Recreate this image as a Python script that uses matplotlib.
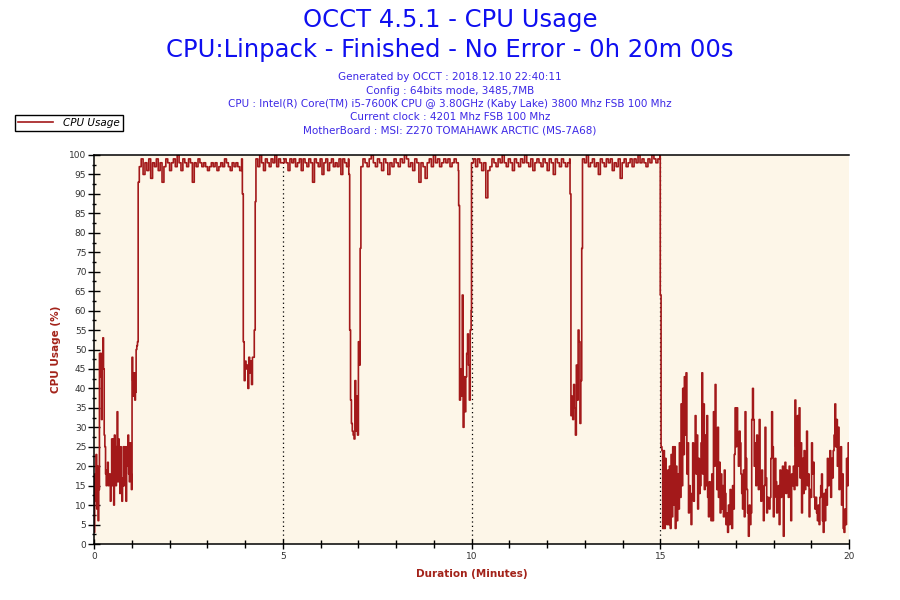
import matplotlib
matplotlib.use('Agg')
import matplotlib.pyplot as plt
from matplotlib.ticker import MultipleLocator
import numpy as np

#-------------------------- data --------------------------
# each segment: (start minute, end minute, cpu usage values sampled evenly in between)
seg_start = [0.0, 1.20, 3.93, 4.29, 6.75, 7.07, 9.66, 10.00, 12.61, 12.94, 15.00]
seg_end   = [1.17, 3.91, 4.27, 6.74, 7.05, 9.65, 9.99, 12.60, 12.92, 14.99, 20.00]

warmup = [3, 18, 11, 23, 9, 20, 6, 14, 49, 43, 49, 32, 45, 53, 45, 28, 25, 18, 15, 19,
          21, 15, 18, 16, 11, 18, 27, 15, 27, 10, 28, 18, 15, 25, 34, 16, 27, 22, 13, 25,
          17, 11, 15, 25, 15, 25, 21, 11, 25, 20, 28, 18, 16, 26, 18, 14, 48, 42, 38, 44,
          37, 39, 50, 51, 52, 93]
run1 = [97, 99, 95, 98, 96, 99, 94, 98, 97, 99, 96, 98, 93, 97, 99, 98, 96, 98, 99, 97,
        100, 98, 96, 99, 98, 97, 99, 98, 93, 98, 97, 99, 98, 97, 98, 97, 96, 97, 98, 97,
        98, 96, 97, 98, 97, 99, 98, 97, 96, 98, 97, 98, 97, 96, 99]
dip1 = [90, 52, 42, 47, 45, 46, 40, 48, 44, 47, 41, 48, 48, 55, 88]
run2 = [99, 97, 100, 98, 96, 99, 98, 97, 99, 98, 100, 97, 99, 98, 98, 99, 98, 96, 99, 98,
        99, 97, 98, 99, 96, 99, 98, 97, 99, 98, 93, 99, 98, 97, 99, 95, 98, 99, 96, 98,
        99, 97, 98, 97, 99, 95, 99, 98, 97, 99]
dip2 = [95, 55, 37, 31, 29, 28, 27, 42, 29, 38, 28, 52, 46, 76]
run3 = [97, 99, 98, 97, 99, 100, 98, 97, 99, 98, 96, 99, 98, 95, 98, 97, 99, 98, 97, 99,
        98, 100, 99, 97, 98, 96, 99, 98, 93, 98, 97, 94, 98, 99, 97, 100, 98, 99, 97, 98,
        99, 98, 99, 97, 98, 99, 98, 96]
dip3 = [87, 37, 45, 38, 64, 30, 43, 34, 43, 49, 54, 46, 37, 55, 60]
run4 = [98, 99, 97, 99, 98, 96, 98, 89, 96, 97, 99, 98, 97, 99, 98, 100, 98, 97, 99, 98,
        96, 99, 98, 97, 99, 98, 100, 98, 97, 99, 96, 98, 99, 98, 97, 99, 98, 96, 99, 98,
        95, 99, 98, 97, 99, 98, 97, 98, 99]
dip4 = [90, 33, 38, 32, 41, 35, 28, 46, 37, 55, 52, 31, 42, 76]
run5 = [99, 98, 100, 97, 98, 99, 97, 98, 95, 99, 98, 97, 99, 98, 99, 96, 98, 97, 99, 94,
        98, 99, 97, 98, 99, 97, 99, 98, 100, 98, 99, 98, 97, 99, 98, 100, 99, 98, 99, 100]
idle = [64, 25, 24, 4, 24, 4, 22, 13, 5, 19, 5, 20, 4, 23, 7, 25, 10, 25, 4, 20,
        6, 18, 9, 26, 12, 36, 15, 40, 23, 43, 28, 44, 18, 26, 8, 15, 12, 5, 13, 26,
        11, 22, 33, 18, 28, 9, 22, 13, 15, 26, 44, 18, 36, 14, 28, 15, 33, 12, 7, 16,
        10, 6, 18, 6, 34, 20, 41, 24, 14, 30, 12, 21, 8, 18, 9, 15, 7, 19, 13, 5,
        8, 3, 10, 5, 14, 8, 4, 15, 9, 23, 35, 25, 35, 28, 20, 29, 26, 18, 13, 9,
        19, 7, 34, 22, 14, 8, 2, 10, 5, 8, 32, 40, 32, 20, 26, 15, 28, 20, 14, 32,
        17, 11, 19, 12, 6, 15, 30, 17, 8, 12, 10, 9, 12, 22, 34, 25, 7, 12, 22, 16,
        8, 13, 15, 5, 19, 12, 16, 20, 2, 16, 21, 13, 19, 15, 12, 20, 15, 6, 18, 15,
        20, 14, 37, 25, 15, 33, 20, 35, 17, 26, 8, 22, 13, 24, 14, 19, 29, 15, 18, 7,
        14, 12, 26, 18, 21, 12, 9, 12, 8, 6, 10, 5, 12, 15, 18, 6, 3, 13, 6, 14,
        10, 22, 15, 19, 24, 12, 22, 17, 24, 28, 36, 25, 32, 20, 30, 14, 22, 25, 10, 18,
        4, 3, 9, 5, 22, 15, 26, 18]
segments = [warmup, run1, dip1, run2, dip2, run3, dip3, run4, dip4, run5, idle]

marker_minutes = [5, 10, 15]
info_lines = ['Generated by OCCT : 2018.12.10 22:40:11',
              'Config : 64bits mode, 3485,7MB',
              'CPU : Intel(R) Core(TM) i5-7600K CPU @ 3.80GHz (Kaby Lake) 3800 Mhz FSB 100 Mhz',
              'Current clock : 4201 Mhz FSB 100 Mhz',
              'MotherBoard : MSI: Z270 TOMAHAWK ARCTIC (MS-7A68)']
#----------------------------------------------------------------------------------

t = np.concatenate([np.linspace(a, b, len(v)) for a, b, v in zip(seg_start, seg_end, segments)])
usage = np.concatenate([np.array(v, dtype=float) for v in segments])

plt.rcParams['font.family'] = 'DejaVu Sans'
fig = plt.figure(figsize=(9, 6), dpi=100)
ax = fig.add_axes([94/900, 1-544/600, (849-94)/900, (544-155)/600])
ax.set_facecolor('#FDF6E8')

# dotted markers every 5 minutes
for m in marker_minutes:
    ax.axvline(m, color='black', linestyle=(0, (1, 2.5)), lw=0.9, zorder=1)

line, = ax.plot(t, usage, color='#A3191A', lw=1.2, drawstyle='steps-post',
                label='CPU Usage', zorder=2)

ax.set_xlim(0, 20)
ax.set_ylim(0, 100)
ax.xaxis.set_major_locator(MultipleLocator(5))
ax.xaxis.set_minor_locator(MultipleLocator(1))
ax.yaxis.set_major_locator(MultipleLocator(5))
ax.yaxis.set_minor_locator(MultipleLocator(2.5))

ax.tick_params(axis='y', which='major', direction='inout', length=8, width=1, labelsize=6.5,
               labelcolor='#333333', pad=1.5)
ax.tick_params(axis='y', which='minor', direction='inout', length=3.5, width=1)
ax.tick_params(axis='x', which='major', direction='inout', length=7, width=1, labelsize=6.5,
               labelcolor='#333333', pad=2)
ax.tick_params(axis='x', which='minor', direction='inout', length=6, width=1)
for s in ['left', 'bottom', 'top']:
    ax.spines[s].set_linewidth(1.1)
ax.spines['right'].set_visible(False)

ax.set_xlabel('Duration (Minutes)', fontsize=7.5, fontweight='bold', color='#A3231A', labelpad=6)
ax.set_ylabel('CPU Usage (%)', fontsize=7.5, fontweight='bold', color='#A3231A', labelpad=6)

fig.text(0.5, 1-20/600, 'OCCT 4.5.1 - CPU Usage', ha='center', va='center',
         fontsize=17.5, color='#0F0FF0')
fig.text(0.5, 1-50/600, 'CPU:Linpack - Finished - No Error - 0h 20m 00s', ha='center', va='center',
         fontsize=17.5, color='#0F0FF0')
for i, s in enumerate(info_lines):
    fig.text(0.5, 1-(77+13.5*i)/600, s, ha='center', va='center', fontsize=7.5, color='#3C28E6')

leg = fig.legend(handles=[line], loc='upper left', bbox_to_anchor=(15/900, 1-115/600),
                 borderaxespad=0, fancybox=False, edgecolor='black', framealpha=1,
                 handlelength=3.3, borderpad=0.3, handletextpad=1.0,
                 prop={'size': 7.5, 'style': 'italic'})
leg.get_frame().set_linewidth(1.0)

fig.savefig('out.png', dpi=100)
